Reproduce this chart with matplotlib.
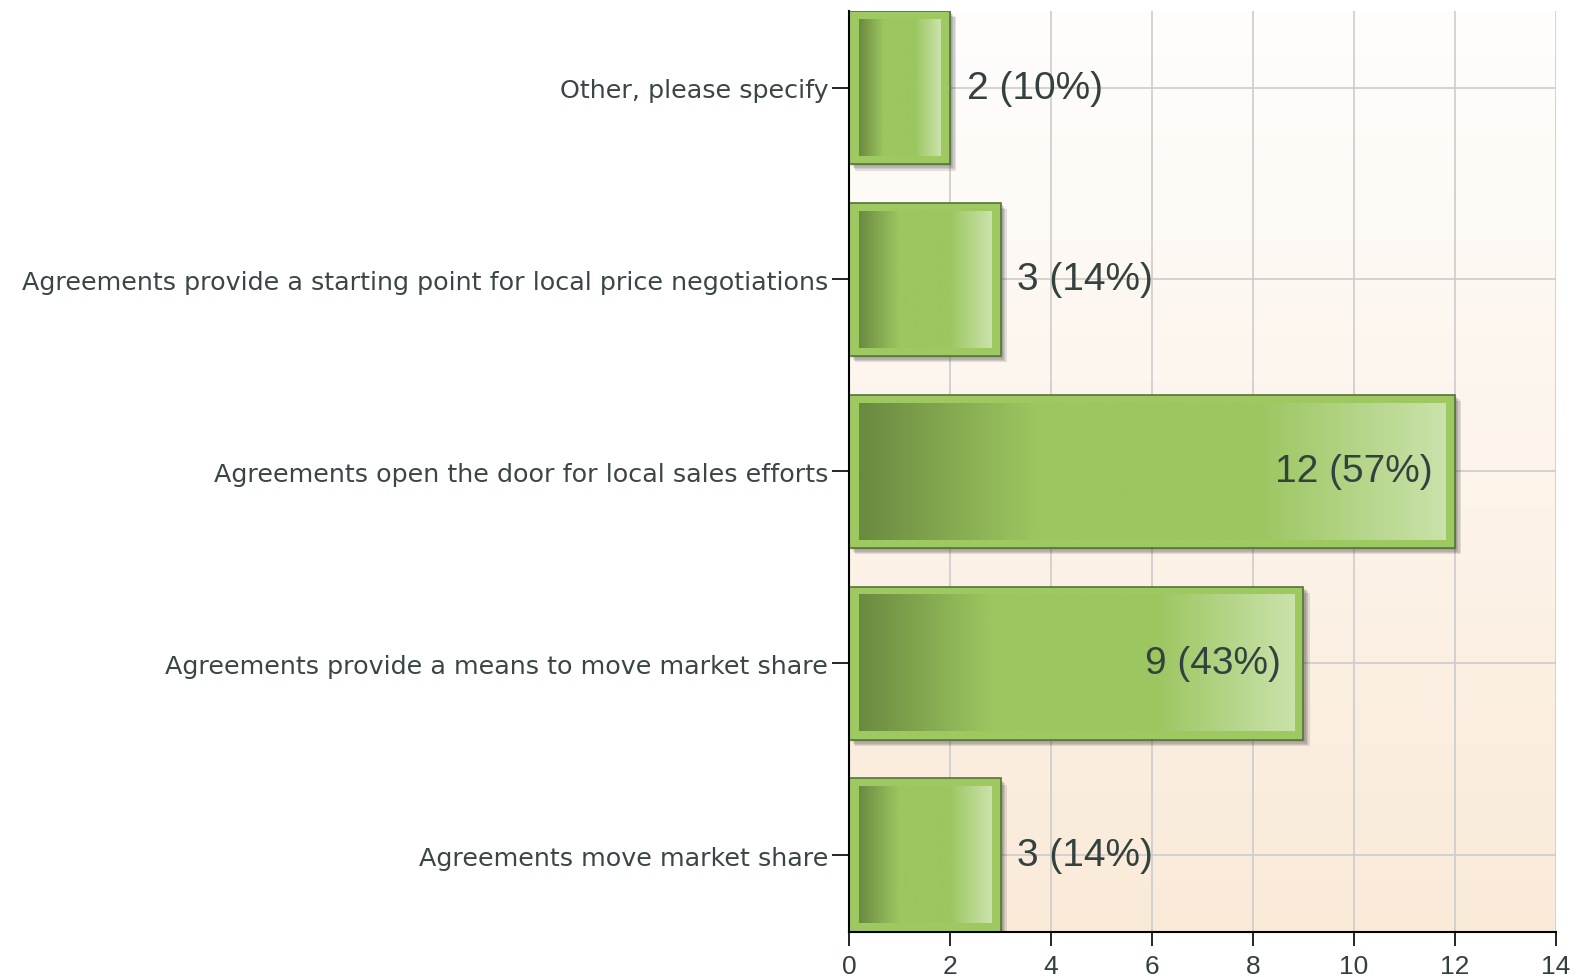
import matplotlib.pyplot as plt
import matplotlib.patheffects as pe
from matplotlib.colors import LinearSegmentedColormap
import numpy as np

categories = ["Agreements move market share",
              "Agreements provide a means to move market share",
              "Agreements open the door for local sales efforts",
              "Agreements provide a starting point for local price negotiations",
              "Other, please specify"]
counts = [3, 9, 12, 3, 2]
percents = [14, 43, 57, 14, 10]
xticks = [0, 2, 4, 6, 8, 10, 12, 14]

plt.rcParams['font.family'] = ['Liberation Sans', 'DejaVu Sans']

fig = plt.figure(figsize=(15.79, 9.78), dpi=100)
ax = fig.add_axes([0.5377, 0.046, 0.4477, 0.942])

# background: white at top fading to light peach
bg = LinearSegmentedColormap.from_list('bg', ['#faead8', '#fffefd'])
ax.imshow(np.linspace(0, 1, 256).reshape(-1, 1), cmap=bg, aspect='auto',
          extent=(0, 1, 0, 1), transform=ax.transAxes, origin='lower', zorder=0)

bar_cm = LinearSegmentedColormap.from_list(
    'bar', [(0, '#6b8a40'), (0.3, '#9cc660'), (0.68, '#9cc660'), (1, '#cae2ab')])
grad = np.linspace(0, 1, 256).reshape(1, -1)

# soft drop shadow made of a few stacked offsets
shadow = [pe.SimplePatchShadow(offset=(o, -o), alpha=0.13, shadow_rgbFace='#333333')
          for o in (1.5, 2.5, 3.5, 4.5)]

y = np.arange(len(categories))
h = 0.8
ax.barh(y, counts, height=h, color='#9dc960', edgecolor='#55733a', linewidth=1.2,
        zorder=3, path_effects=shadow + [pe.Normal()])

dx, dy = 0.19, 0.045
for yi, v, p in zip(y, counts, percents):
    ax.imshow(grad, cmap=bar_cm, aspect='auto', zorder=4,
              extent=(dx, v - dx, yi - h / 2 + dy, yi + h / 2 - dy))
    label = f"{v} ({p}%)"
    if v > 6:
        ax.text(v - 0.45, yi, label, ha='right', va='center', fontsize=28,
                color='#34423f', zorder=5)
    else:
        ax.text(v + 0.33, yi, label, ha='left', va='center', fontsize=28,
                color='#34423f', zorder=5)

ax.set_xlim(0, 14)
ax.set_ylim(-0.4, 4.4)
ax.set_xticks(xticks)
ax.set_yticks(y)
ax.set_yticklabels(categories, fontsize=18.3, color='#3a4646', family='DejaVu Sans')
ax.tick_params(axis='x', labelsize=19, labelcolor='#33403f', length=10, width=1.2, pad=6)
ax.tick_params(axis='y', length=12, width=1.2, pad=3)
ax.grid(True, color='#cccccc', linewidth=1.2, zorder=1)
ax.set_axisbelow(True)
for s in ['top', 'right']:
    ax.spines[s].set_visible(False)
for s in ['left', 'bottom']:
    ax.spines[s].set_linewidth(1.5)
    ax.spines[s].set_zorder(6)

fig.savefig('out.png', dpi=100)
